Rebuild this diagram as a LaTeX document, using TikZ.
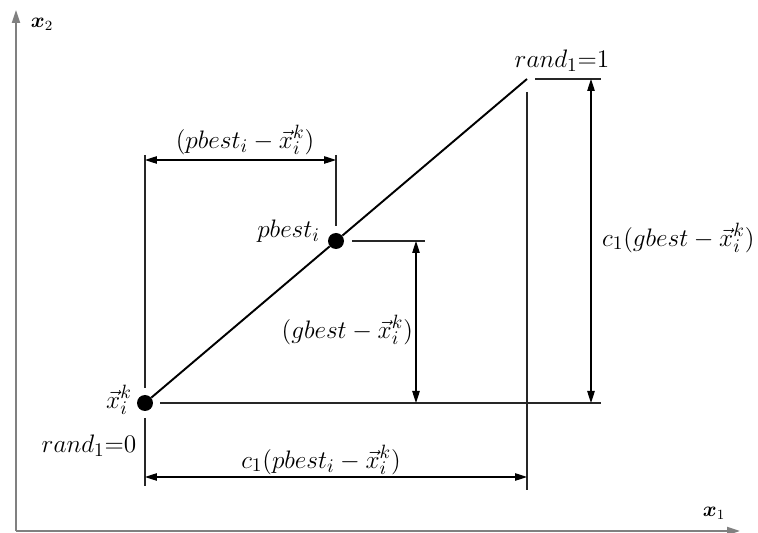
\documentclass[tikz,border=0pt]{standalone}
\usepackage{bm}
\usetikzlibrary{arrows.meta,positioning,calc}
\definecolor{axisgray}{gray}{0.5}
\tikzset{
  dot/.style={circle, fill=black, inner sep=0pt, minimum size=0.32cm},
  guide/.style={line width=0.6pt, draw=black!85},
  dimarr/.style={{Triangle[length=2.4mm,width=1.5mm]}-{Triangle[length=2.4mm,width=1.5mm]}, line width=0.6pt},
  axis/.style={-{Triangle[length=2.6mm,width=1.6mm]}, line width=1.1pt, draw=axisgray},
  lbl/.style={font=\fontsize{15}{17}\selectfont, inner sep=1pt},
}
\begin{document}
\begin{tikzpicture}[x=0.02cm, y=-0.02cm]
    \useasboundingbox (0,0) rectangle (758,533);
    % axes
    \coordinate (o) at (16,531);
    \coordinate (ytip) at (16,10);
    \coordinate (xtip) at (740,531);
    \draw[axis] (o) -- (ytip);
    \draw[axis] (o) -- (xtip);
    \node[font=\large] (x2) at (42,24) {$\bm{x}_2$};
    \node[font=\large] (x1) at (714,513) {$\bm{x}_1$};
    % points on the line
    \node[dot] (xk) at (145,403) {};
    \node[dot] (pb) at (336,241) {};
    \coordinate (r1) at (527,79);
    \draw[line width=1.1pt] (xk) -- (pb) -- (r1);
    % guide lines
    \coordinate (xa) at (145,155); \coordinate (xb) at (145,388);
    \coordinate (xc) at (145,418); \coordinate (xd) at (145,486);
    \coordinate (pa) at (336,155); \coordinate (pc) at (336,226);
    \coordinate (ph1) at (352,241); \coordinate (ph2) at (425,241);
    \coordinate (xh1) at (160,403); \coordinate (xh2) at (601,403);
    \coordinate (ra) at (527,92); \coordinate (rb) at (527,490);
    \coordinate (rh1) at (535,79); \coordinate (rh2) at (601,79);
    \draw[guide] (xa) -- (xb); \draw[guide] (xc) -- (xd);
    \draw[guide] (pa) -- (pc); \draw[guide] (ph1) -- (ph2);
    \draw[guide] (xh1) -- (xh2); \draw[guide] (ra) -- (rb);
    \draw[guide] (rh1) -- (rh2);
    % dimension arrows
    \coordinate (d1a) at (145,160); \coordinate (d1b) at (336,160);
    \coordinate (d2a) at (416,241); \coordinate (d2b) at (416,403);
    \coordinate (d3a) at (591,79);  \coordinate (d3b) at (591,403);
    \coordinate (d4a) at (145,477); \coordinate (d4b) at (527,477);
    \draw[dimarr] (d1a) -- (d1b); \draw[dimarr] (d2a) -- (d2b);
    \draw[dimarr] (d3a) -- (d3b); \draw[dimarr] (d4a) -- (d4b);
    % labels
    \node[lbl] (lxk) at (119,400) {$\vec{x}_i^k$};
    \node[lbl, anchor=east] (lpb) at (322,231) {$pbest_i$};
    \node[lbl] (lr0) at (89,446) {$rand_1{=}0$};
    \node[lbl] (lr1) at (562,61) {$rand_1{=}1$};
    \node[lbl] (ld1) at (245,140) {$(pbest_i-\vec{x}_i^k)$};
    \node[lbl, anchor=east] (ld2) at (415,330) {$(gbest-\vec{x}_i^k)$};
    \node[lbl, anchor=west] (ld3) at (600,238) {$c_1(gbest-\vec{x}_i^k)$};
    \node[lbl] (ld4) at (321,460) {$c_1(pbest_i-\vec{x}_i^k)$};
  \end{tikzpicture}
\end{document}
